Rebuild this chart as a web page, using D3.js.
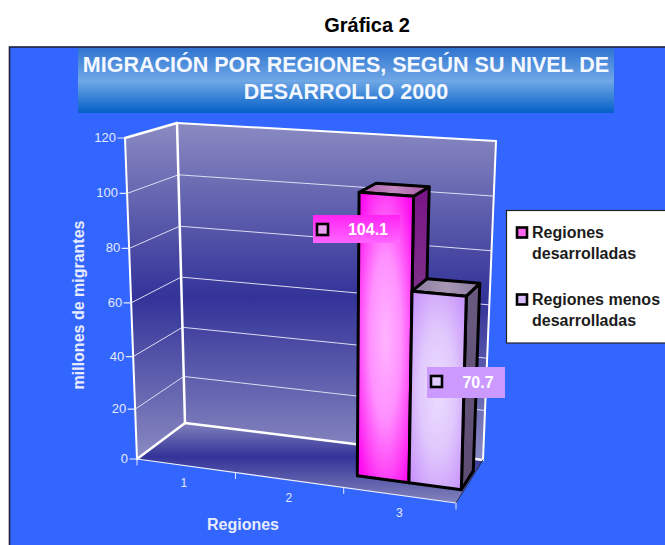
<!DOCTYPE html>
<html><head><meta charset="utf-8">
<script src="https://cdnjs.cloudflare.com/ajax/libs/d3/7.8.5/d3.min.js"></script>
<style>html,body{margin:0;padding:0;background:#fff;overflow:hidden}svg{display:block}text{font-family:"Liberation Sans",Arial,sans-serif}</style>
</head><body><svg id="c" width="665" height="545"></svg>
<script>
const categories = ["1","2","3"];
const seriesNames = ["Regiones desarrolladas","Regiones menos desarrolladas"];
const seriesValues = [104.1, 70.7];
const valueCategory = "3";
const yTicks = [0,20,40,60,80,100,120];
const legendLines = [["Regiones","desarrolladas"],["Regiones menos","desarrolladas"]];
const pageTitle = "Gráfica 2";
const chartTitle = ["MIGRACIÓN POR REGIONES, SEGÚN SU NIVEL DE","DESARROLLO 2000"];
const xTitle = "Regiones", yTitle = "millones de migrantes";

const svg = d3.select("#c"), defs = svg.append("defs");

// 3D box: corners [bottom/top] × [front-left, front-right, back-right, back-left]
const box = {
  A:[137,459], B:[456,503], C:[483,460], D:[185,423],
  At:[125,138], Bt:[463,160], Ct:[496,141], Dt:[177,123]
};
const uScale = d3.scalePow().exponent(1.07).domain([0,3]).range([0,1]);
const vScale = d3.scalePow().exponent(1.04).domain([0,120]).range([0,1]);
const lerp = (a,b,t)=>[a[0]+(b[0]-a[0])*t,a[1]+(b[1]-a[1])*t];
function P(x,val,w){
  const u=uScale(x), v=vScale(val);
  const bot=lerp(lerp(box.A,box.B,u),lerp(box.D,box.C,u),w);
  const top=lerp(lerp(box.At,box.Bt,u),lerp(box.Dt,box.Ct,u),w);
  return lerp(bot,top,v);
}
const catBand = d3.scaleBand().domain(categories).range([0,3]);
const serBand = d3.scaleBand().domain(seriesNames).range([0.03,0.975]);
const line = d3.line();

function grad(id,stops,o={}){
  const g=defs.append("linearGradient").attr("id",id).attr("x1",o.x1||0).attr("y1",o.y1||0).attr("x2",o.x2||0).attr("y2",o.y2===undefined?1:o.y2);
  stops.forEach(s=>g.append("stop").attr("offset",s[0]).attr("stop-color",s[1]));
}
function rgrad(id,stops){
  const g=defs.append("radialGradient").attr("id",id).attr("cx",.5).attr("cy",.5).attr("r",.62);
  stops.forEach(s=>g.append("stop").attr("offset",s[0]).attr("stop-color",s[1]));
}
grad("wall",[[0,"#8a8ac2"],[.52,"#333399"],[1,"#8a8ac2"]]);
grad("floor",[[0,"#8080bc"],[.42,"#333399"],[1,"#8484bc"]]);
grad("titleG",[[0,"#2f74d0"],[.5,"#70a8e6"],[1,"#0560c8"]]);
rgrad("bar0",[[0,"#ffb4ff"],[.45,"#ff90ff"],[1,"#ff0cf0"]]);
rgrad("bar1",[[0,"#ecdcff"],[.5,"#e0c8fc"],[1,"#c996fc"]]);
grad("side0",[[0,"#7a1488"],[.55,"#804088"],[1,"#806090"]]);
grad("side1",[[0,"#6a5a80"],[1,"#5e4c72"]]);
grad("top0",[[0,"#a85aa8"],[.5,"#c488c0"],[1,"#a85aa8"]],{x2:1,y2:0});
grad("top1",[[0,"#8a7aa0"],[.5,"#a898b4"],[1,"#8a7aa0"]],{x2:1,y2:0});
grad("lab0",[[0,"#ff22f4"],[1,"#ff66ff"]]);

// page title
svg.append("text").attr("x",367).attr("y",32).attr("text-anchor","middle")
  .attr("font-size",20).attr("font-weight","bold").attr("fill","#000").text(pageTitle);
// panel
svg.append("rect").attr("x",9.5).attr("y",47).attr("width",670).attr("height",510)
  .attr("fill","#3366ff").attr("stroke","#20203a").attr("stroke-width",1.6);
// chart title
svg.append("rect").attr("x",78).attr("y",48).attr("width",536).attr("height",65).attr("fill","url(#titleG)");
chartTitle.forEach((t,i)=>svg.append("text").attr("x",346).attr("y",72+i*27).attr("text-anchor","middle")
  .attr("font-size",21.5).attr("font-weight","bold").attr("fill","#f4f8ff").text(t));

// walls + floor
const poly=(pts,fill)=>svg.append("path").attr("d",line(pts)+"Z").attr("fill",fill);
poly([box.A,box.D,box.Dt,box.At],"url(#wall)");
poly([box.D,box.C,box.Ct,box.Dt],"url(#wall)");
poly([box.A,box.B,box.C,box.D],"url(#floor)");

// gridlines
const gridG=svg.append("g").attr("fill","none").attr("stroke","#dcdcf2").attr("stroke-width",1);
yTicks.slice(1,-1).forEach(t=>{
  gridG.append("path").attr("d",line([P(0,t,0),P(0,t,1),P(3,t,1)]));
});
// frame
const edge=(pts,w,c="#fff")=>svg.append("path").attr("d",line(pts)).attr("fill","none").attr("stroke",c).attr("stroke-width",w).attr("stroke-linecap","round");
edge([box.At,box.Dt],2.5);
edge([box.Dt,box.Ct],2);
edge([box.Ct,box.C],2);
edge([box.At,box.A],2);
edge([box.Dt,box.D],2.5);
edge([box.A,box.D],2.5);
edge([box.D,box.C],2.5);
edge([box.A,box.B],1.1,"#eef0ff");
edge([box.B,box.C],1,"#20284a");

// y axis ticks & labels
yTicks.forEach(t=>{
  const p=P(0,t,0);
  edge([[p[0]-7,p[1]],p],1.2,"#e6eaff");
  svg.append("text").attr("x",p[0]-9).attr("y",p[1]+4).attr("text-anchor","end")
    .attr("font-size",13).attr("fill","#e3e8ff").text(t);
});
// x axis ticks & labels
d3.range(0,4).forEach(x=>{
  const p=P(x,0,0);
  edge([p,[p[0],p[1]+6]],1,"#e6eaff");
});
categories.forEach(c=>{
  const p=P(catBand(c)+catBand.bandwidth()/2,0,0);
  svg.append("text").attr("x",p[0]).attr("y",p[1]+22).attr("text-anchor","middle")
    .attr("font-size",12).attr("fill","#e3e8ff").text(c);
});
svg.append("text").attr("x",243).attr("y",530).attr("text-anchor","middle")
  .attr("font-size",16).attr("font-weight","bold").attr("fill","#e8ecff").text(xTitle);
svg.append("text").attr("transform","translate(84,305) rotate(-90)").attr("text-anchor","middle")
  .attr("font-size",16).attr("font-weight","bold").attr("fill","#e8ecff").text(yTitle);

// bars
const w0=.3,w1=.74;
seriesValues.forEach((val,i)=>{
  const x0=catBand(valueCategory)+serBand(seriesNames[i]), x1=x0+serBand.bandwidth();
  const g=svg.append("g").attr("stroke","#000").attr("stroke-width",3).attr("stroke-linejoin","round");
  const face=(pts,f)=>g.append("path").attr("d",line(pts)+"Z").attr("fill",f);
  face([P(x1,0,w0),P(x1,0,w1),P(x1,val,w1),P(x1,val,w0)],`url(#side${i})`);
  face([P(x0,val,w0),P(x1,val,w0),P(x1,val,w1),P(x0,val,w1)],`url(#top${i})`);
  face([P(x0,0,w0),P(x1,0,w0),P(x1,val,w0),P(x0,val,w0)],`url(#bar${i})`);
});

// data labels
const labelBoxes=[{x:313,y:215,w:87,h:28,mx:317,my:224,ms:11,tx:368,fill:"url(#lab0)",sw:"#e8a0f0"},
                  {x:427,y:367,w:78,h:31,mx:431,my:376,ms:11,tx:478,fill:"#cc99ff",sw:"#e0ccff"}];
labelBoxes.forEach((b,i)=>{
  svg.append("rect").attr("x",b.x).attr("y",b.y).attr("width",b.w).attr("height",b.h).attr("fill",b.fill);
  svg.append("rect").attr("x",b.mx).attr("y",b.my).attr("width",b.ms).attr("height",b.ms).attr("fill",b.sw).attr("stroke","#000").attr("stroke-width",2.6);
  svg.append("text").attr("x",b.tx).attr("y",b.y+b.h/2+5.5).attr("text-anchor","middle")
    .attr("font-size",16).attr("font-weight","bold").attr("fill","#fff").text(seriesValues[i]);
});

// legend
svg.append("rect").attr("x",506.5).attr("y",210.5).attr("width",170).attr("height",132.5).attr("fill","#fff").attr("stroke","#222").attr("stroke-width",1.2);
const legSw=["#ff66ee","#d8bcfc"], legY=[238,305];
legendLines.forEach((ls,i)=>{
  svg.append("rect").attr("x",517).attr("y",legY[i]-10.5).attr("width",10).attr("height",10).attr("fill",legSw[i]).attr("stroke","#000").attr("stroke-width",2.6);
  ls.forEach((t,j)=>svg.append("text").attr("x",532).attr("y",legY[i]+j*20.5).attr("font-size",16).attr("font-weight","bold").attr("fill","#1c1c1c").text(t));
});
</script></body></html>
